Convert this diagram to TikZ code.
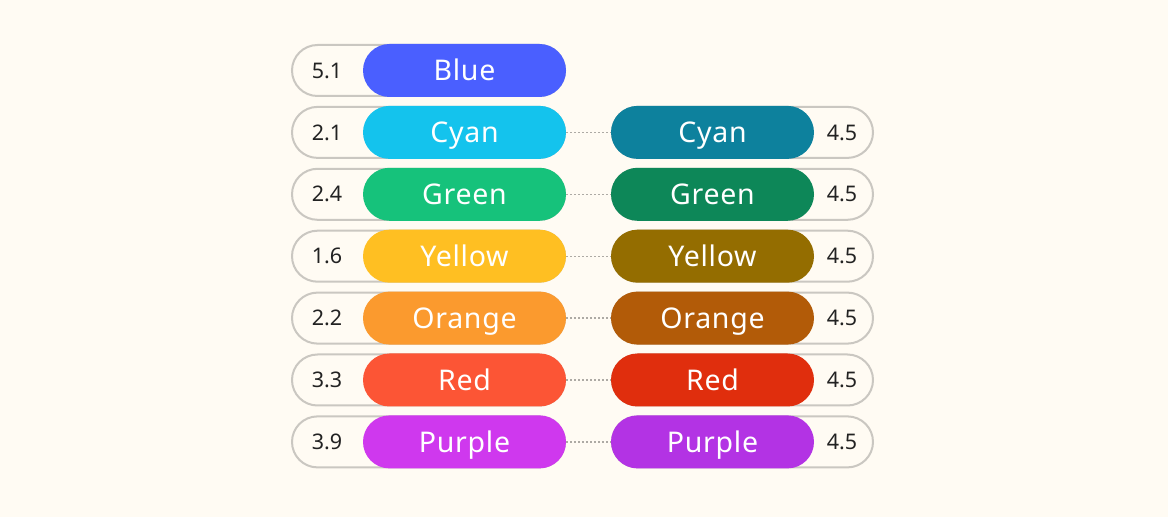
\documentclass[tikz,border=0pt]{standalone}
\usepackage{fontspec}
\setmainfont{Noto Sans}
\newfontfamily\labfont[LetterSpace=2.5]{Noto Sans}
\definecolor{bg}{HTML}{FFFBF3}
\definecolor{ring}{HTML}{CAC7C1}
\definecolor{dotc}{HTML}{ADAAA4}
\definecolor{numc}{HTML}{222222}
\definecolor{cBlue}{HTML}{4A5FFF}
\definecolor{cCyan}{HTML}{14C3ED}
\definecolor{cGreen}{HTML}{16C27B}
\definecolor{cYellow}{HTML}{FFBF22}
\definecolor{cOrange}{HTML}{FB9A2E}
\definecolor{cRed}{HTML}{FC5535}
\definecolor{cPurple}{HTML}{CF38EE}
\definecolor{dCyan}{HTML}{0D819D}
\definecolor{dGreen}{HTML}{0D8758}
\definecolor{dYellow}{HTML}{946D00}
\definecolor{dOrange}{HTML}{B25B08}
\definecolor{dRed}{HTML}{E02E0D}
\definecolor{dPurple}{HTML}{B333E4}
\tikzset{
  outerL/.style={draw=ring, line width=2pt, fill=bg, rounded corners=25.5pt, minimum width=273pt, minimum height=51pt, inner sep=0pt},
  outerR/.style={draw=ring, line width=2pt, fill=bg, rounded corners=25.5pt, minimum width=261pt, minimum height=51pt, inner sep=0pt},
  pill/.style={rounded corners=26.5pt, minimum width=203pt, minimum height=53pt, inner sep=0pt, text=white, font=\labfont\fontsize{28.5}{30}\selectfont, text height=20.3pt, text depth=0pt},
  num/.style={text=numc, font=\fontsize{21.5}{24}\selectfont, inner sep=0pt, text height=15.4pt, text depth=0pt},
  link/.style={draw=dotc, line width=1.3pt, dash pattern=on 2pt off 2pt}
}
\begin{document}
\begin{tikzpicture}[x=1pt,y=1pt]
\fill[bg] (0,0) rectangle (1168,517);
\useasboundingbox (0,0) rectangle (1168,517);
% Blue row (left only)
\node[outerL] (oB) at (428.5,446.5) {};
\node[pill, fill=cBlue] (lB) at (464.5,446.5) {Blue};
\node[num] (nB) at (327,446.5) {5.1};
\foreach \i/\nm/\lv in {1/Cyan/2.1, 2/Green/2.4, 3/Yellow/1.6, 4/Orange/2.2, 5/Red/3.3, 6/Purple/3.9}{
  \pgfmathsetmacro{\yy}{446.5-61.9*\i}
  \node[outerL] (oL\i) at (428.5,\yy) {};
  \node[pill, fill=c\nm] (l\i) at (464.5,\yy) {\nm};
  \node[num] (nL\i) at (327,\yy) {\lv};
  \node[outerR] (oR\i) at (742.5,\yy) {};
  \node[pill, fill=d\nm] (r\i) at (712.5,\yy) {\nm};
  \node[num] (nR\i) at (842,\yy) {4.5};
  \draw[link] (l\i.east) -- (r\i.west);
}
\end{tikzpicture}
\end{document}
